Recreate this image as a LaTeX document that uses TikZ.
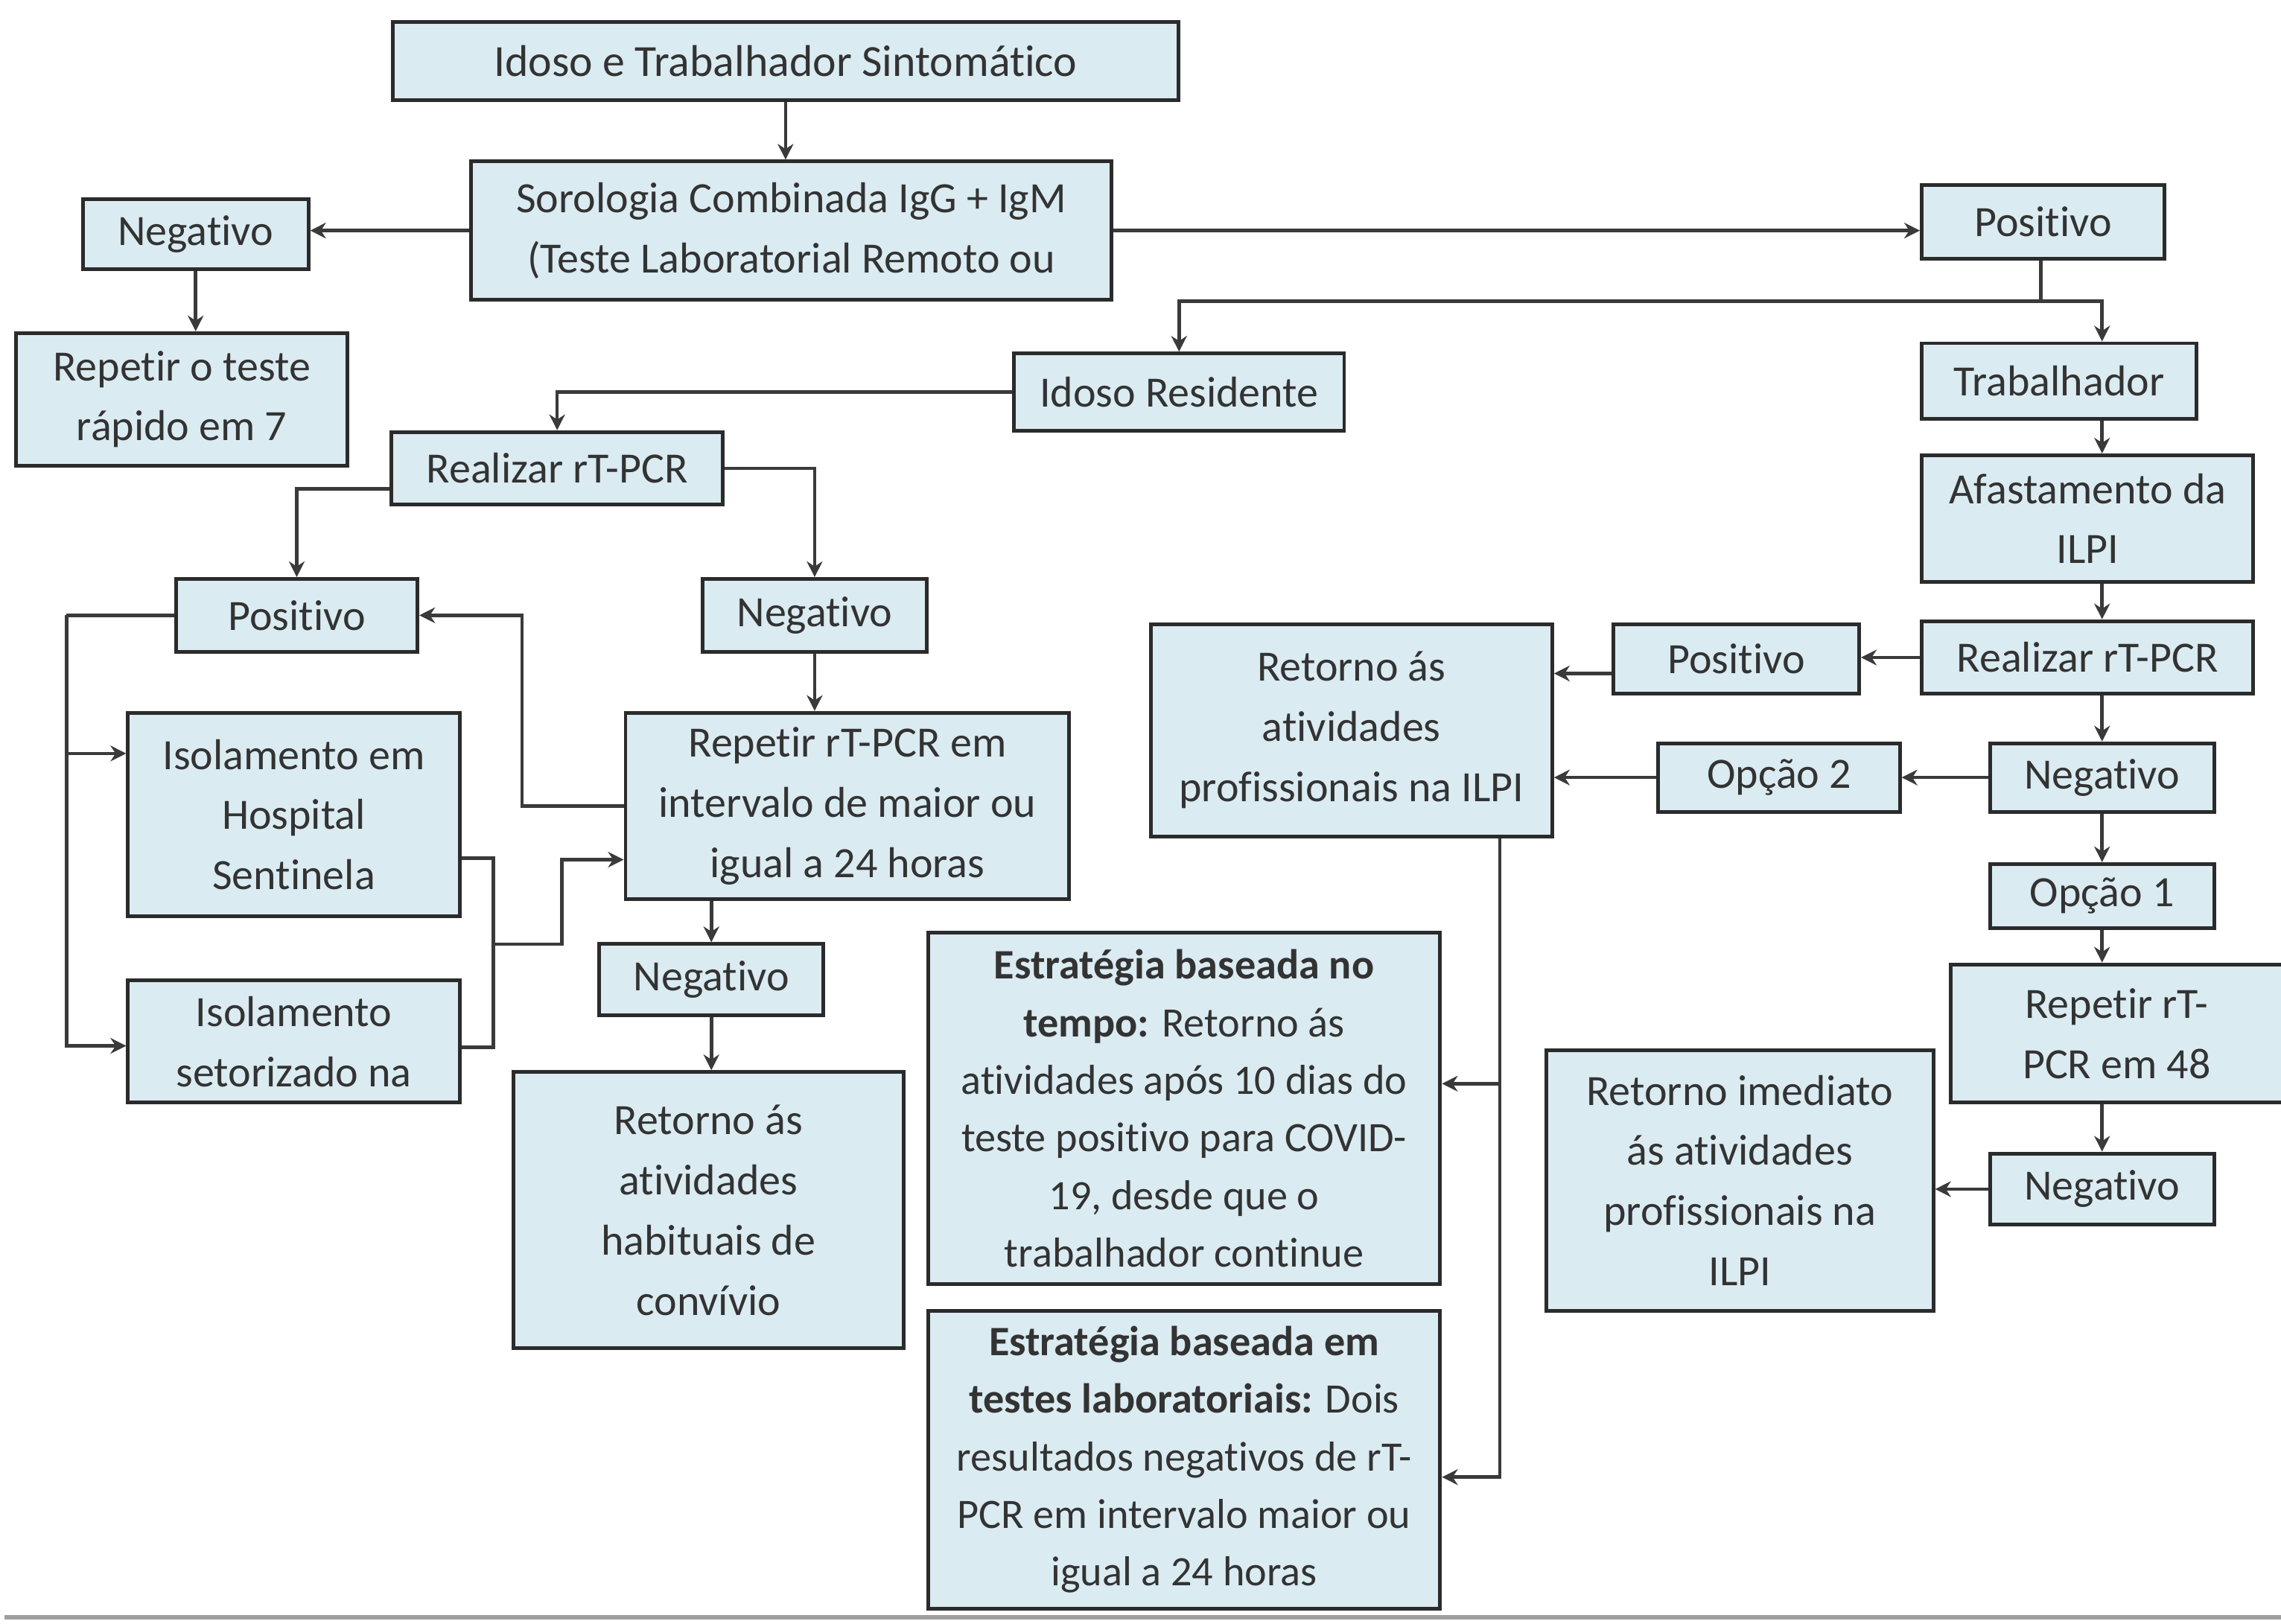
\documentclass[tikz,border=0pt]{standalone}
\usepackage{fontspec}
\setmainfont{Carlito}[Ligatures=NoCommon]
\usetikzlibrary{arrows.meta,calc}
\definecolor{fundo}{HTML}{DAEBF1}
\definecolor{borda}{HTML}{2B2B2B}
\definecolor{traco}{HTML}{3A3A3A}
\newcommand{\unid}{0.19534mm}

\begin{document}
\begin{tikzpicture}[
    x=\unid, y=-\unid,
    caixa/.style 2 args={rectangle, draw=borda, fill=fundo, line width=1.4pt,
                     minimum width=#1*\unid, minimum height=#2*\unid,
                     inner sep=1pt, align=center, text=black!80,
                     font=\fontsize{16.5}{23}\selectfont},
    estrategia/.style={font=\fontsize{16}{22}\selectfont},
    seta/.style={-{Stealth[length=6pt, width=6pt]}, line width=1.3pt, draw=traco},
    linha/.style={line width=1.3pt, draw=traco},
]
\useasboundingbox (0,0) rectangle (1568,1116);

% Topo
\node[caixa={540}{54}, font=\fontsize{17}{23}\selectfont] (sint) at (540,42) {Idoso e Trabalhador Sintomático};
\node[caixa={440}{95}] (soro) at (544,158.5) {Sorologia Combinada IgG + IgM\\(Teste Laboratorial Remoto ou};
\node[caixa={155}{48}] (negA) at (134.5,161) {Negativo};
\node[caixa={228}{91}] (rep7) at (125,274.5) {Repetir o teste\\rápido em 7};
\node[caixa={167}{51}] (posA) at (1404.5,152.5) {Positivo};

% Ramo do idoso residente
\node[caixa={227}{53}] (resid) at (810.5,269.5) {Idoso Residente};
\node[caixa={228}{50}] (pcrA) at (383,322) {Realizar rT-PCR};
\node[caixa={166}{50}] (posB) at (204,423) {Positivo};
\node[caixa={154}{50}] (negB) at (560,423) {Negativo};
\node[caixa={228}{140}] (isoH) at (202,560) {Isolamento em\\Hospital\\Sentinela};
\node[caixa={228}{84}] (isoS) at (202,716) {Isolamento\\setorizado na};
\node[caixa={305}{128}] (rep24) at (582.5,554) {Repetir rT-PCR em\\intervalo de maior ou\\igual a 24 horas};
\node[caixa={154}{49}] (negC) at (489,673.5) {Negativo};
\node[caixa={268}{190}] (habit) at (487,832) {Retorno ás\\atividades\\habituais de\\convívio};

% Ramo do trabalhador
\node[caixa={189}{52}] (trab) at (1415.5,262) {Trabalhador};
\node[caixa={228}{87}] (afast) at (1435,356.5) {Afastamento da\\ILPI};
\node[caixa={228}{50}] (pcrB) at (1435,452) {Realizar rT-PCR};
\node[caixa={169}{48}] (posC) at (1193.5,453) {Positivo};
\node[caixa={276}{146}] (profA) at (929,502) {Retorno ás\\atividades\\profissionais na ILPI};
\node[caixa={154}{47}] (negD) at (1445,534.5) {Negativo};
\node[caixa={166}{47}] (opc2) at (1223,534.5) {Opção 2};
\node[caixa={154}{44}] (opc1) at (1445,616) {Opção 1};
\node[caixa={228}{95}] (rep48) at (1455,710.5) {Repetir rT-\\PCR em 48};
\node[caixa={154}{49}] (negE) at (1445,817.5) {Negativo};
\node[caixa={266}{179}] (imed) at (1196,811.5) {Retorno imediato\\ás atividades\\profissionais na\\ILPI};

% Estrategias de retorno
\node[caixa={352}{242}, estrategia] (estT) at (814,762) {\textbf{Estratégia baseada no}\\\textbf{tempo:} Retorno ás\\atividades após 10 dias do\\teste positivo para COVID-\\19, desde que o\\trabalhador continue};
\node[caixa={352}{205}, estrategia] (estL) at (814,1003.5) {\textbf{Estratégia baseada em}\\\textbf{testes laboratoriais:} Dois\\resultados negativos de rT-\\PCR em intervalo maior ou\\igual a 24 horas};

% Ligacoes do topo
\draw[seta] (sint.south) -- (sint.south |- soro.north);
\draw[seta] (soro.west) -- (soro.west -| negA.east);
\draw[seta] (negA.south) -- (negA.south |- rep7.north);
\draw[seta] (soro.east) -- (soro.east -| posA.west);

% Bifurcacao do positivo
\coordinate (bif) at (1403,207);
\coordinate (eixo) at (1445,207);
\draw[linha] (posA.south -| bif) -- (bif);
\draw[seta] (bif) -| (resid.north);
\draw[seta] (bif) -- (eixo) -- (eixo |- trab.north);

% Coluna do trabalhador
\foreach \a/\b in {trab/afast, afast/pcrB, pcrB/negD, negD/opc1, opc1/rep48, rep48/negE} {
    \draw[seta] (eixo |- \a.south) -- (eixo |- \b.north);
}
\draw[seta] (pcrB.west) -- (pcrB.west -| posC.east);
\coordinate (pc) at ($(posC.west)+(0,10)$);
\draw[seta] (pc) -- (pc -| profA.east);
\draw[seta] (negD.west) -- (negD.west -| opc2.east);
\draw[seta] (opc2.west) -- (opc2.west -| profA.east);
\draw[seta] (negE.west) -- (negE.west -| imed.east);

% Ligacoes das estrategias
\coordinate (desce) at ($(profA.south)+(102,0)$);
\coordinate (et) at ($(estT.east)+(0,-17)$);
\coordinate (el) at ($(estL.east)+(0,12)$);
\draw[seta] (desce) |- (el);
\draw[seta] (desce |- et) -- (et);

% Ramo do idoso
\draw[seta] (resid.west) -| (pcrA.north);
\draw[seta] ($(pcrA.west)+(0,14)$) -| (posB.north);
\draw[seta] (pcrA.east) -| (negB.north);
\draw[seta] (negB.south) -- (negB.south |- rep24.north);
\draw[seta] (rep24.west) -- ++(-70,0) |- (posB.east);

\coordinate (esq) at ($(posB.west)+(-74,0)$);
\draw[linha] (posB.west) -- (esq);
\draw[seta] (esq) |- ($(isoH.west)+(0,-42)$);
\draw[seta] (esq) |- ($(isoS.west)+(0,3)$);

\coordinate (dir) at ($(isoH.east)+(22,30)$);
\coordinate (jun) at ($(dir)+(0,59)$);
\draw[linha] ($(isoH.east)+(0,30)$) -- (dir) |- ($(isoS.east)+(0,4)$);
\draw[seta] (jun) -- ++(47,0) |- ($(rep24.west)+(0,37)$);

\draw[seta] (negC.north |- rep24.south) -- (negC.north);
\draw[seta] (negC.south) -- (negC.south |- habit.north);

% Linha de rodape
\draw[gray!75, line width=1.7pt] (3,1112) -- (1568,1112);

\end{tikzpicture}
\end{document}
